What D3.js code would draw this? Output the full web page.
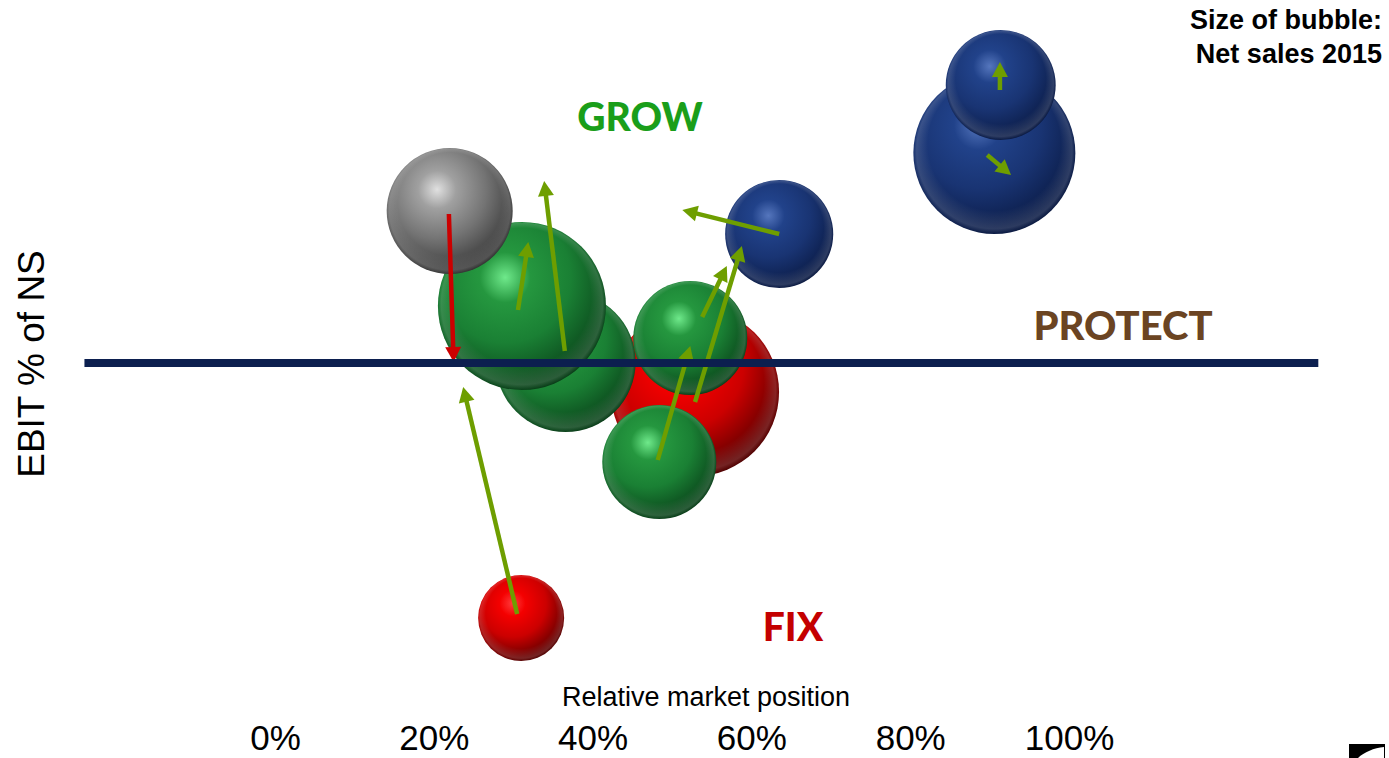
<!DOCTYPE html>
<html>
<head>
<meta charset="utf-8">
<script src="https://cdn.jsdelivr.net/npm/d3@7"></script>
<style>
  html, body { margin: 0; padding: 0; background: #fff; }
  svg { display: block; }
</style>
</head>
<body>
<svg id="chart" width="1389" height="758"></svg>
<script>
// Business units: relative market position (%), EBIT % of net sales, net sales 2015
const units   = ["Unit A", "Unit B", "Unit C", "Unit D", "Unit E", "Unit F", "Unit G", "Unit H", "Unit I", "Unit J"];
const marketX = [52.9, 36.6, 31.1, 22.0, 52.3, 48.4, 90.6, 91.4, 63.5, 31.0];
const ebitY   = [-1.16, 0.04, 2.28, 6.08, 1.0, -3.96, 8.4, 11.12, 5.16, -10.2];
const netSales = [706, 490, 706, 397, 325, 325, 656, 302, 292, 185];
const groups  = ["red", "green", "green", "gray", "green", "green", "blue", "blue", "blue", "red"];

// Movement arrows: start and end (market position %, EBIT %)
const arrowX0 = [21.9, 30.5, 30.6, 36.5, 63.5, 48.2, 52.9, 53.8, 91.3, 89.7];
const arrowY0 = [5.96, -10.04, 2.12, 0.48, 5.16, -3.88, -1.56, 1.84, 10.92, 8.32];
const arrowX1 = [22.5, 23.7, 31.9, 33.9, 51.3, 52.3, 58.8, 56.9, 91.3, 92.7];
const arrowY1 = [0.04, -0.96, 4.84, 7.28, 6.12, 0.68, 4.68, 3.88, 12.04, 7.52];
const arrowDir = ["down", "up", "up", "up", "up", "up", "up", "up", "up", "up"];

const xTicks = [0, 20, 40, 60, 80, 100];
const threshold = 0;

const svg = d3.select("#chart");

const x = d3.scaleLinear().domain([0, 100]).range([275, 1069]);
const y = d3.scaleLinear().domain([-12, 12]).range([663, 63]);
const r = d3.scaleSqrt().domain([0, 1000]).range([0, 100]);

// Sphere-like radial gradients per colour group (light from upper left)
const palettes = {
  red:   { hi: "#ff3c3c", mid: "#f40000", base: "#cc0000", edge: "#3a0000" },
  green: { hi: "#6fe98b", mid: "#25973f", base: "#1a8034", edge: "#053012" },
  gray:  { hi: "#e0e0e0", mid: "#a0a0a0", base: "#747474", edge: "#262626" },
  blue:  { hi: "#5576bd", mid: "#21428a", base: "#193473", edge: "#061337" }
};
const defs = svg.append("defs");
Object.entries(palettes).forEach(([key, p]) => {
  const g = defs.append("radialGradient")
    .attr("id", "sphere-" + key)
    .attr("cx", "40%").attr("cy", "33%").attr("r", "75%")
    .attr("fx", "40%").attr("fy", "33%");
  g.append("stop").attr("offset", "0%").attr("stop-color", p.hi);
  g.append("stop").attr("offset", "20%").attr("stop-color", p.mid);
  g.append("stop").attr("offset", "52%").attr("stop-color", p.base);
  g.append("stop").attr("offset", "100%").attr("stop-color", p.edge);

  // soft rim reflection along the lower edge
  const rim = defs.append("radialGradient")
    .attr("id", "rim-" + key)
    .attr("cx", "50%").attr("cy", "50%").attr("r", "50%")
    .attr("fx", "50%").attr("fy", "20%");
  rim.append("stop").attr("offset", "82%").attr("stop-color", "#fff").attr("stop-opacity", 0);
  rim.append("stop").attr("offset", "96%").attr("stop-color", "#fff").attr("stop-opacity", 0.14);
  rim.append("stop").attr("offset", "100%").attr("stop-color", "#fff").attr("stop-opacity", 0);
});

const bubbles = units.map((u, i) => ({
  name: u, x: marketX[i], y: ebitY[i], sales: netSales[i], group: groups[i]
}));

const bubbleG = svg.append("g");
bubbles.forEach(d => {
  const g = bubbleG.append("g");
  g.append("circle")
    .attr("cx", x(d.x)).attr("cy", y(d.y)).attr("r", r(d.sales))
    .attr("fill", `url(#sphere-${d.group})`);
  g.append("circle")
    .attr("cx", x(d.x)).attr("cy", y(d.y)).attr("r", r(d.sales))
    .attr("fill", `url(#rim-${d.group})`);
});

// Movement arrows
const arrowG = svg.append("g");
const headLen = 15, headW = 16;
arrowX0.forEach((_, i) => {
  const x0 = x(arrowX0[i]), y0 = y(arrowY0[i]);
  const x1 = x(arrowX1[i]), y1 = y(arrowY1[i]);
  const color = arrowDir[i] === "down" ? "#cc0000" : "#6e9e00";
  const ang = Math.atan2(y1 - y0, x1 - x0);
  const ux = Math.cos(ang), uy = Math.sin(ang);
  const bx = x1 - ux * headLen, by = y1 - uy * headLen;
  arrowG.append("line")
    .attr("x1", x0).attr("y1", y0)
    .attr("x2", bx + ux * 2).attr("y2", by + uy * 2)
    .attr("stroke", color).attr("stroke-width", 4.5);
  const px = -uy * headW / 2, py = ux * headW / 2;
  arrowG.append("path")
    .attr("d", `M${x1},${y1}L${bx + px},${by + py}L${bx - px},${by - py}Z`)
    .attr("fill", color);
});

// Threshold line
svg.append("line")
  .attr("x1", x(-24)).attr("x2", x(131.4))
  .attr("y1", y(threshold)).attr("y2", y(threshold))
  .attr("stroke", "#0c1f4f").attr("stroke-width", 8);

// Quadrant labels
const quadFont = "Lato, 'DejaVu Sans', sans-serif";
svg.append("text").text("GROW")
  .attr("x", 640).attr("y", 131).attr("text-anchor", "middle")
  .attr("font-family", quadFont).attr("font-weight", 900).attr("font-size", 39)
  .attr("fill", "#1a9e1a");
svg.append("text").text("PROTECT")
  .attr("x", 1123).attr("y", 340).attr("text-anchor", "middle")
  .attr("font-family", quadFont).attr("font-weight", 900).attr("font-size", 40)
  .attr("fill", "#6b4422");
svg.append("text").text("FIX")
  .attr("x", 793).attr("y", 641).attr("text-anchor", "middle")
  .attr("font-family", quadFont).attr("font-weight", 900).attr("font-size", 39)
  .attr("fill", "#c40000");

// Bubble size note
const note = svg.append("text")
  .attr("text-anchor", "end")
  .attr("font-family", "'Liberation Sans', Arial, sans-serif")
  .attr("font-weight", "bold").attr("font-size", 27).attr("fill", "#000");
note.append("tspan").attr("x", 1382).attr("y", 29).text("Size of bubble:");
note.append("tspan").attr("x", 1382).attr("y", 63).text("Net sales 2015");

// Axis titles
svg.append("text").text("EBIT % of NS")
  .attr("transform", "translate(44,364) rotate(-90)")
  .attr("text-anchor", "middle")
  .attr("font-family", "'Liberation Sans', Arial, sans-serif")
  .attr("font-size", 37).attr("fill", "#000");

svg.append("text").text("Relative market position")
  .attr("x", 706).attr("y", 706).attr("text-anchor", "middle")
  .attr("font-family", "'Liberation Sans', Arial, sans-serif")
  .attr("font-size", 27).attr("fill", "#000");

// X axis tick labels
const axis = d3.axisBottom(x).tickValues(xTicks).tickFormat(d => d + "%")
  .tickSize(0).tickPadding(0);
const axG = svg.append("g").attr("transform", "translate(0,750)").call(axis);
axG.select(".domain").remove();
axG.selectAll("text")
  .attr("dy", null).attr("y", 0)
  .attr("font-family", "'Liberation Sans', Arial, sans-serif")
  .attr("font-size", 35).attr("fill", "#000");

// Corner logo fragment
const logo = svg.append("g");
logo.append("rect").attr("x", 1349).attr("y", 744).attr("width", 40).attr("height", 14).attr("fill", "#000");
logo.append("path")
  .attr("d", "M1358,758 C1364,752 1374,748 1384,747 L1384,758 Z")
  .attr("fill", "#fff");
logo.append("rect").attr("x", 1385).attr("y", 744).attr("width", 4).attr("height", 14).attr("fill", "#fff");
</script>
</body>
</html>
